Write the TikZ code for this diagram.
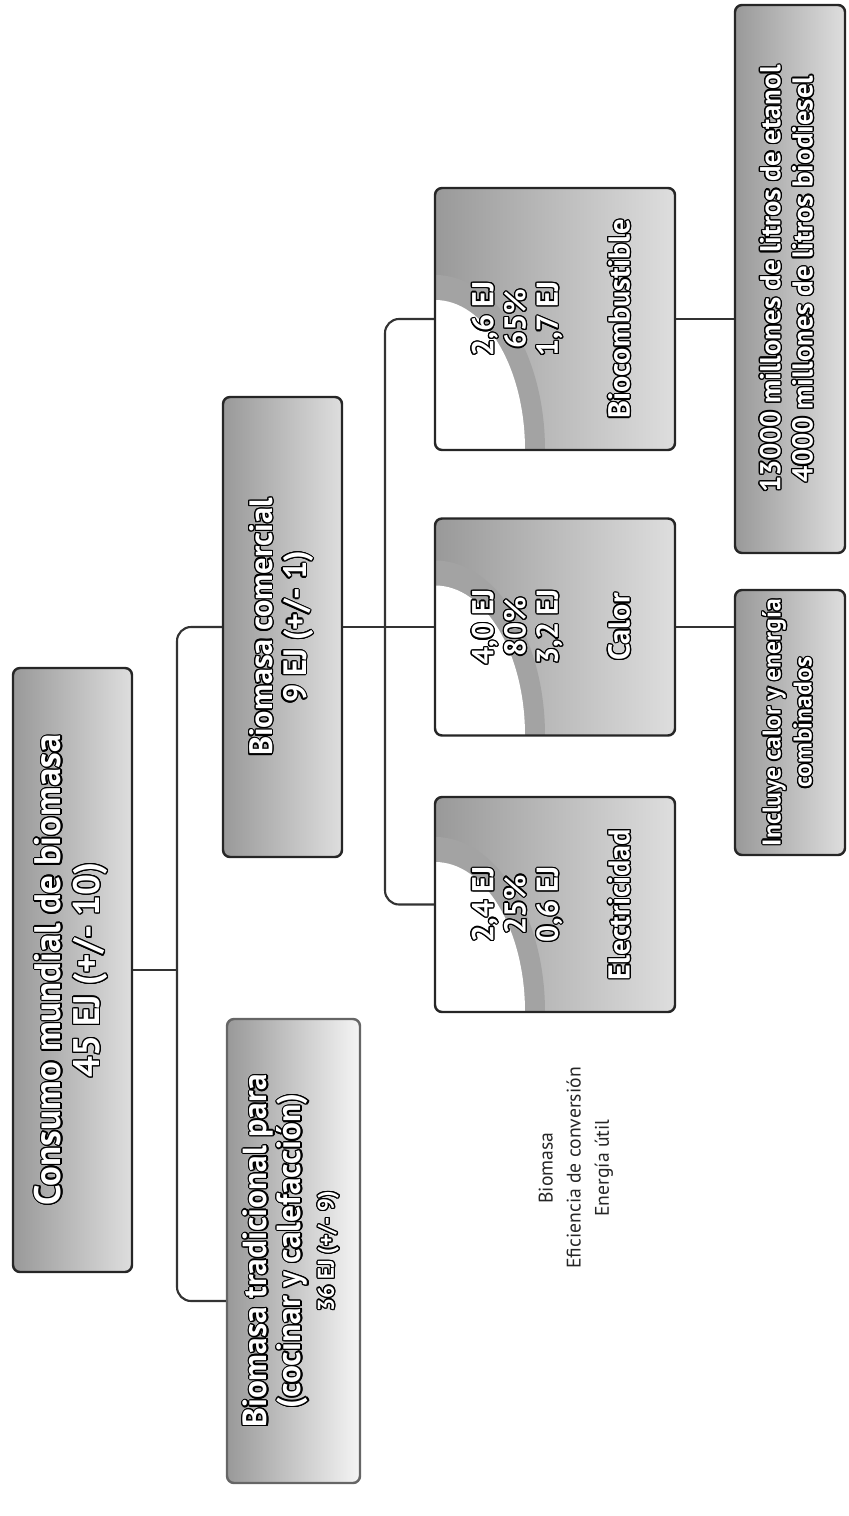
\documentclass[tikz,border=0pt]{standalone}
\usepackage{fontspec}
\setmainfont{PT Sans}
\usepackage{contour}
\contourlength{0.35pt}
\usetikzlibrary{calc,positioning}

\newcommand{\vlines}[1]{\rotatebox{90}{\begin{tabular}{@{}c@{}}#1\end{tabular}}}
\newcommand{\ol}[1]{\contour{black}{#1}}

\begin{document}
\begin{tikzpicture}[
 panel/.style={draw=black!85,line width=0.7pt,rounded corners=2pt,inner sep=0pt,
   text=white,left color=black!40,right color=black!13},
 glow/.style={path picture={
   \fill[black!36] (path picture bounding box.south west) ellipse (1.1 and 1.75);
   \fill[white] (path picture bounding box.south west) ellipse (0.9 and 1.5);}},
 big/.style={font=\bfseries\fontsize{10.5}{11}\selectfont},
 mid/.style={font=\bfseries\fontsize{8.6}{9.2}\selectfont},
 conn/.style={draw=black!80,line width=0.6pt,rounded corners=4pt}]
\useasboundingbox (0,0) rectangle (8.48,-15.16);
% first level
\node[panel,big,minimum width=1.19cm,minimum height=6.04cm] (root) at (0.725,-9.70)
  {\vlines{\ol{Consumo mundial de biomasa}\\\ol{45 EJ (+/- 10)}}};
\node[panel,mid,font=\bfseries\fontsize{9.5}{9.4}\selectfont,minimum width=1.33cm,minimum height=4.64cm,
  right color=black!4,draw=black!60] (trad) at (2.935,-12.51)
  {\vlines{\ol{Biomasa tradicional para}\\\ol{(cocinar y calefacción)}\\\ol{\fontsize{6.5}{8}\selectfont 36 EJ (+/- 9)}}};
\node[panel,mid,font=\bfseries\fontsize{9.2}{9.6}\selectfont,minimum width=1.19cm,minimum height=4.60cm] (com) at (2.825,-6.27)
  {\vlines{\ol{Biomasa comercial}\\\ol{9 EJ (+/- 1)}}};
% conversion
\node[panel,glow,mid,minimum width=2.40cm,minimum height=2.62cm] (bio) at (5.55,-3.19)
  {\vlines{\ol{2,6 EJ}\\\ol{65\%}\\\ol{1,7 EJ}\\[1.3em]\ol{Biocombustible}}};
\node[panel,glow,mid,minimum width=2.40cm,minimum height=2.17cm] (calor) at (5.55,-6.27)
  {\vlines{\ol{4,0 EJ}\\\ol{80\%}\\\ol{3,2 EJ}\\[1.3em]\ol{Calor}}};
\node[panel,glow,mid,minimum width=2.40cm,minimum height=2.15cm] (elec) at (5.55,-9.045)
  {\vlines{\ol{2,4 EJ}\\\ol{25\%}\\\ol{0,6 EJ}\\[1.3em]\ol{Electricidad}}};
\node[font=\fontsize{5.6}{8}\selectfont,text=black!85] (leyenda) at (5.75,-11.68)
  {\vlines{Biomasa\\Eficiencia de conversión\\Energía útil}};
% notes
\node[panel,mid,font=\bfseries\fontsize{8.2}{9.2}\selectfont,minimum width=1.10cm,minimum height=5.48cm] (litros) at (7.90,-2.79)
  {\vlines{\ol{13000 millones de litros de etanol}\\\ol{4000 millones de litros biodiesel}}};
\node[panel,mid,font=\bfseries\fontsize{7.3}{8.8}\selectfont,minimum width=1.10cm,minimum height=2.65cm] (chp) at (7.90,-7.225)
  {\vlines{\ol{Incluye calor y energía}\\\ol{combinados}}};
\coordinate (j1) at (1.77,-9.70);
\coordinate (j2) at (3.85,-6.27);
\draw[conn] (root.east) -- (j1);
\draw[conn] (com.west) -| (j1) |- ([yshift=-5mm]trad.west);
\draw[conn] (com.east) -- (calor.west);
\draw[conn] (bio.west) -| (j2) |- (elec.west);
\draw[conn] (bio.east) -- (bio.east -| litros.west);
\draw[conn] (calor.east) -- (calor.east -| chp.west);
\end{tikzpicture}
\end{document}
